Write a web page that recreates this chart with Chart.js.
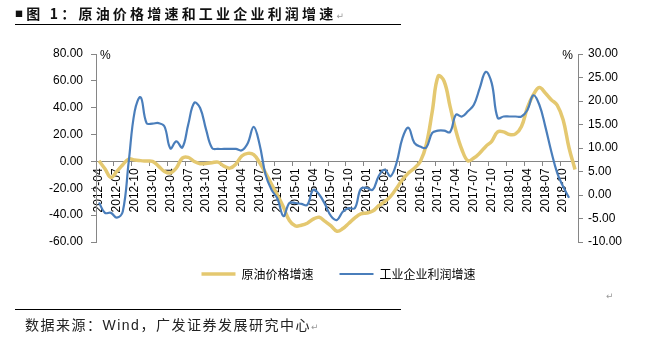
<!DOCTYPE html>
<html lang="zh-CN">
<head>
  <meta charset="UTF-8">
  <title>原油价格增速和工业企业利润增速</title>
  <script src="https://cdn.jsdelivr.net/npm/chart.js"></script>
  <style>
    body { margin: 0; background: #fff; }
    #wrap { position: relative; width: 659px; height: 338px; overflow: hidden; }
    #chart { position: absolute; left: 0; top: 0; }
    .rule { position: absolute; left: 15px; width: 386px; height: 1px; background: #000; }
    #title { position: absolute; left: 15px; top: 5px; font: bold 14px/16px "Noto Sans CJK SC", sans-serif; letter-spacing: 3.2px; color: #111; white-space: nowrap; }
    #src { position: absolute; left: 25px; top: 315px; font: 14px/18px "Noto Sans CJK SC", sans-serif; letter-spacing: 1.5px; color: #222; white-space: nowrap; }
    #src .latin { font-family: "Liberation Sans", Arial, sans-serif; }
    .ret { font: 9px/10px "DejaVu Sans", sans-serif; color: #999; letter-spacing: 0; }
    #ret3 { position: absolute; left: 606px; top: 291px; }
  </style>
</head>
<body>
  <div id="wrap">
    <canvas id="chart" width="659" height="338"></canvas>
    <div id="title"><span style="font-size:8px;vertical-align:2px">■</span>图 1：原油价格增速和工业企业利润增速<span class="ret">↵</span></div>
    <div class="rule" style="top:24px"></div>
    <div class="rule" style="top:309px"></div>
    <div id="src">数据来源：<span class="latin">Wind</span>，广发证券发展研究中心<span class="ret">↵</span></div>
    <span class="ret" id="ret3">↵</span>
  </div>

  <script>
    // 月份（2012-04 至 2018-12）
    const months = [
      '2012-04','2012-05','2012-06','2012-07','2012-08','2012-09','2012-10','2012-11','2012-12',
      '2013-01','2013-02','2013-03','2013-04','2013-05','2013-06','2013-07','2013-08','2013-09','2013-10','2013-11','2013-12',
      '2014-01','2014-02','2014-03','2014-04','2014-05','2014-06','2014-07','2014-08','2014-09','2014-10','2014-11','2014-12',
      '2015-01','2015-02','2015-03','2015-04','2015-05','2015-06','2015-07','2015-08','2015-09','2015-10','2015-11','2015-12',
      '2016-01','2016-02','2016-03','2016-04','2016-05','2016-06','2016-07','2016-08','2016-09','2016-10','2016-11','2016-12',
      '2017-01','2017-02','2017-03','2017-04','2017-05','2017-06','2017-07','2017-08','2017-09','2017-10','2017-11','2017-12',
      '2018-01','2018-02','2018-03','2018-04','2018-05','2018-06','2018-07','2018-08','2018-09','2018-10','2018-11','2018-12'
    ];

    // 原油价格增速（左轴，%）
    const oilGrowth = [
      0.5, -5.5, -12, -7.4, -2.5, 1.8, 1, 0.6, 0.3,
      0, -3.5, -7.4, -8.6, -4.9, 2.5, 3, 0, -1.7, -1.5, -1, -0.5,
      -3.5, -5, -2, 4, 6, 5, -1, -8.6, -17, -25, -34, -44,
      -48, -47.5, -46, -43, -41.6, -44.7, -48, -52, -50, -46, -42, -39,
      -38.4, -37, -33, -30, -26, -20, -13.6, -8.6, -5, 0, 12.4, 37,
      63.5, 59.7, 41, 22.5, 8.7, 0.5, 2.5, 6.3, 11.2, 15, 22, 22,
      20, 20.5, 26, 40, 49.7, 55, 51, 46, 42, 31, 10, -6
    ];

    // 工业企业利润增速（右轴，%）
    const profitGrowth = [
      -1.6, -3.8, -3.8, -4.8, -3.5, 7.1, 17.8, 20.8, 15.3,
      15.2, 15.3, 14.6, 9.9, 11.4, 10.1, 15, 19.6, 18.5, 13.9, 10, 9.8,
      9.8, 9.8, 9.8, 9.5, 11, 14.5, 10.7, 4.3, 1.1, -0.8, -4.5, -1.7,
      -1.7, -1.9, -2.1, 1.1, 0.1, -2, -4.5, -5.3, -3.5, -2.8, -2.8, 1.3,
      1.5, 1.1, 4, 5.4, 4, 6.8, 12.1, 14.3, 11.1, 10.3, 10.1, 13.2,
      13.7, 13.7, 13.4, 17.1, 16.7, 17.8, 19.2, 22.8, 26.2, 23.8, 16.4, 16.7,
      16.7, 16.7, 16.7, 18.1, 21.2, 19.2, 14.6, 9.3, 4.7, 1.8, -0.6, null
    ];

    const leftTicks = { min: -60, max: 80, step: 20 };
    const rightTicks = { min: -10, max: 30, step: 5 };

    const yellow = '#E4C870';
    const blue = '#4A7EBB';
    const axisGray = '#868686';
    const tickFont = { family: '"Liberation Sans", Arial, sans-serif', size: 12 };

    // 轴顶部的 % 单位
    const unitPlugin = {
      id: 'unitLabels',
      afterDraw(chart) {
        const { ctx, chartArea } = chart;
        ctx.save();
        ctx.font = '12px "Liberation Sans", Arial, sans-serif';
        ctx.fillStyle = '#000';
        ctx.textBaseline = 'middle';
        ctx.textAlign = 'left';
        ctx.fillText('%', chartArea.left + 4, chartArea.top + 2);
        ctx.textAlign = 'right';
        ctx.fillText('%', chartArea.right - 5, chartArea.top + 2);
        ctx.restore();
      }
    };

    new Chart(document.getElementById('chart'), {
      type: 'line',
      data: {
        labels: months,
        datasets: [
          {
            label: '原油价格增速',
            data: oilGrowth,
            yAxisID: 'y',
            borderColor: yellow,
            backgroundColor: yellow,
            borderWidth: 3.5,
            pointRadius: 0,
            tension: 0.4,
            order: 2
          },
          {
            label: '工业企业利润增速',
            data: profitGrowth,
            yAxisID: 'y1',
            borderColor: blue,
            backgroundColor: blue,
            borderWidth: 2.2,
            pointRadius: 0,
            tension: 0.4,
            order: 1
          }
        ]
      },
      options: {
        responsive: false,
        animation: false,
        devicePixelRatio: 1,
        layout: { padding: { left: 30, right: 12, top: 54, bottom: 48 } },
        plugins: {
          tooltip: { enabled: false },
          legend: {
            position: 'bottom',
            labels: {
              usePointStyle: true,
              pointStyle: 'line',
              pointStyleWidth: 34,
              padding: 26,
              color: '#000',
              font: { family: '"Noto Sans CJK SC", sans-serif', size: 12 },
              sort: (a, b) => a.datasetIndex - b.datasetIndex
            }
          }
        },
        scales: {
          x: {
            position: { y: 0 },
            offset: true,
            border: { color: axisGray, width: 1 },
            grid: {
              offset: true,
              drawOnChartArea: false,
              tickLength: 4,
              color: ctx => (ctx.index % 3 === 0 ? axisGray : 'rgba(0,0,0,0)')
            },
            ticks: {
              autoSkip: false,
              maxRotation: 90,
              minRotation: 90,
              padding: 3,
              color: '#000',
              font: tickFont,
              callback: (v, i) => (i % 3 === 0 ? months[i] : '')
            }
          },
          y: {
            position: 'left',
            min: leftTicks.min,
            max: leftTicks.max,
            border: { color: axisGray, width: 1 },
            grid: { drawOnChartArea: false, tickLength: 5, color: axisGray },
            ticks: {
              stepSize: leftTicks.step,
              padding: 8,
              color: '#000',
              font: tickFont,
              callback: v => v.toFixed(2)
            },
            afterFit: s => { s.width = 66; }
          },
          y1: {
            position: 'right',
            min: rightTicks.min,
            max: rightTicks.max,
            border: { color: axisGray, width: 1 },
            grid: { drawOnChartArea: false, tickLength: 5, color: axisGray },
            ticks: {
              stepSize: rightTicks.step,
              padding: 5,
              color: '#000',
              font: tickFont,
              callback: v => v.toFixed(2)
            },
            afterFit: s => { s.width = 69; }
          }
        }
      },
      plugins: [unitPlugin]
    });
  </script>
</body>
</html>
